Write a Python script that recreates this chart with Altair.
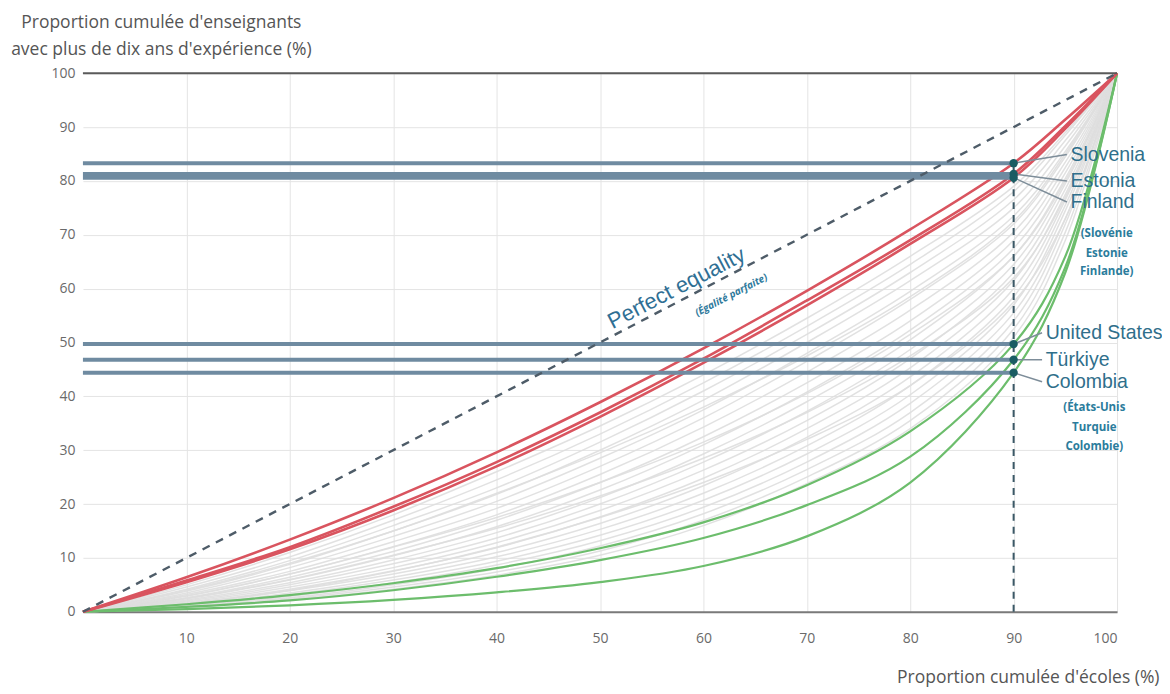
import altair as alt
import pandas as pd

# ---------------- data ----------------
x_pts = [0, 10, 20, 30, 40, 50, 60, 70, 80, 90, 95, 100]

slovenia = [0, 6.4, 13.4, 21.1, 29.6, 38.9, 48.9, 59.6, 71.0, 83.3, 91.4, 100]
estonia = [0, 5.8, 12.0, 19.5, 27.8, 37.0, 47.0, 57.8, 69.0, 81.3, 90.2, 100]
finland = [0, 5.5, 11.6, 18.8, 27.0, 36.2, 46.2, 56.9, 68.3, 80.6, 89.7, 100]
united_states = [0, 1.4, 3.1, 5.3, 8.1, 11.8, 16.6, 23.5, 33.5, 49.7, 66.0, 100]
turkiye = [0, 0.9, 2.1, 4.0, 6.5, 9.6, 13.7, 19.8, 28.8, 46.8, 64.0, 100]
colombia = [0, 0.5, 1.2, 2.2, 3.6, 5.5, 8.5, 14.0, 24.0, 44.4, 63.0, 100]

red_series = {"Slovenia": slovenia, "Estonia": estonia, "Finland": finland}
green_series = {"United States": united_states, "Türkiye": turkiye, "Colombia": colombia}

gray_series = [
    [0, 5.0, 11.0, 18.0, 26.0, 34.5, 44.0, 54.5, 66.0, 79.0, 89.0, 100],
    [0, 4.6, 10.2, 17.0, 24.5, 33.0, 42.5, 53.0, 64.5, 78.0, 88.5, 100],
    [0, 4.2, 9.5, 16.0, 23.0, 31.5, 41.0, 51.5, 63.0, 76.5, 87.5, 100],
    [0, 3.8, 8.8, 15.0, 21.8, 30.0, 39.3, 50.0, 61.5, 75.0, 86.5, 100],
    [0, 3.5, 8.2, 14.0, 20.5, 28.5, 37.5, 48.0, 59.5, 73.5, 85.5, 100],
    [0, 3.2, 7.5, 13.0, 19.2, 27.0, 36.0, 46.5, 58.0, 72.0, 84.5, 100],
    [0, 2.9, 7.0, 12.1, 18.0, 25.5, 34.3, 44.5, 56.0, 70.5, 83.5, 100],
    [0, 2.6, 6.4, 11.2, 17.0, 24.0, 32.5, 42.5, 54.0, 69.0, 82.5, 100],
    [0, 2.4, 5.9, 10.4, 15.8, 22.6, 31.0, 40.8, 52.3, 67.5, 81.5, 100],
    [0, 2.2, 5.4, 9.6, 14.7, 21.2, 29.3, 39.0, 50.5, 66.0, 80.5, 100],
    [0, 2.0, 5.0, 8.9, 13.7, 20.0, 27.8, 37.2, 48.7, 64.5, 79.5, 100],
    [0, 1.8, 4.6, 8.2, 12.8, 18.8, 26.3, 35.5, 47.0, 63.0, 78.5, 100],
    [0, 1.6, 4.2, 7.6, 11.9, 17.6, 24.8, 34.0, 45.3, 61.5, 77.5, 100],
    [0, 1.5, 3.9, 7.0, 11.0, 16.4, 23.4, 32.4, 43.6, 60.0, 76.5, 100],
    [0, 1.3, 3.5, 6.4, 10.2, 15.3, 22.0, 30.8, 42.0, 58.5, 75.5, 100],
    [0, 1.2, 3.2, 5.9, 9.4, 14.2, 20.7, 29.3, 40.3, 57.0, 74.5, 100],
    [0, 1.1, 2.9, 5.4, 8.7, 13.2, 19.4, 27.8, 38.7, 55.5, 73.0, 100],
    [0, 1.0, 2.6, 5.0, 8.0, 12.2, 18.2, 26.4, 37.0, 54.0, 72.0, 100],
    [0, 0.9, 2.4, 4.6, 7.4, 11.3, 17.0, 25.0, 35.5, 52.5, 70.5, 100],
    [0, 0.8, 2.2, 4.2, 6.8, 10.5, 16.0, 23.8, 34.0, 51.0, 69.0, 100],
    [0, 4.0, 9.0, 15.0, 22.0, 29.5, 38.0, 47.5, 58.5, 72.5, 85.0, 100],
    [0, 3.0, 7.0, 12.0, 17.5, 24.0, 31.5, 40.5, 51.5, 66.0, 80.0, 100],
    [0, 2.5, 6.0, 10.5, 15.5, 21.5, 28.5, 37.0, 47.5, 62.0, 77.0, 100],
    [0, 1.5, 4.0, 7.5, 12.0, 17.5, 24.0, 32.0, 42.0, 57.5, 73.0, 100],
]

highlight_names = ["Slovenia", "Estonia", "Finland", "United States", "Türkiye", "Colombia"]
value_at_90 = [83.3, 81.3, 80.6, 49.7, 46.8, 44.4]
label_x = [95.5, 95.5, 95.5, 93.1, 93.1, 93.1]
label_y = [84.9, 80.0, 76.1, 51.8, 46.8, 42.7]

fr_labels_top = ["(Slovénie", "Estonie", "Finlande)"]
fr_top_y = [70.2, 66.5, 63.0]
fr_top_x = 99.0
fr_labels_bottom = ["(États-Unis", "Turquie", "Colombie)"]
fr_bottom_y = [37.9, 34.2, 30.6]
fr_bottom_x = 97.8

x_ticks = [10, 20, 30, 40, 50, 60, 70, 80, 90, 100]
y_ticks = [0, 10, 20, 30, 40, 50, 60, 70, 80, 90, 100]

# ---------------- tables ----------------
rows = []
for i, ys in enumerate(gray_series):
    for xv, yv in zip(x_pts, ys):
        rows.append({"id": f"g{i}", "x": xv, "y": yv})
gray_df = pd.DataFrame(rows)

rows = []
for name, ys in red_series.items():
    for xv, yv in zip(x_pts, ys):
        rows.append({"id": name, "x": xv, "y": yv})
red_df = pd.DataFrame(rows)

rows = []
for name, ys in green_series.items():
    for xv, yv in zip(x_pts, ys):
        rows.append({"id": name, "x": xv, "y": yv})
green_df = pd.DataFrame(rows)

hl_df = pd.DataFrame({
    "name": highlight_names,
    "x0": [0] * 6,
    "x90": [90] * 6,
    "v": value_at_90,
    "lx": label_x,
    "lx_end": [v - 0.35 for v in label_x],
    "ly": label_y,
})

fr_df = pd.DataFrame({
    "t": fr_labels_top + fr_labels_bottom,
    "x": [fr_top_x] * 3 + [fr_bottom_x] * 3,
    "y": fr_top_y + fr_bottom_y,
})

eq_df = pd.DataFrame({"x": [0, 100], "y": [0, 100]})
top_df = pd.DataFrame({"x0": [0], "x1": [100], "y": [100]})
vline_df = pd.DataFrame({"x": [90], "y0": [0], "y1": [max(value_at_90)]})

# ---------------- scales ----------------
xs = alt.Scale(domain=[0, 100], nice=False, zero=False)
ys_ = alt.Scale(domain=[0, 100], nice=False, zero=False)

X = alt.X("x:Q", scale=xs, axis=alt.Axis(
    values=x_ticks, ticks=False, domain=True, domainColor="#7a7a7a", domainWidth=2,
    grid=True, gridColor="#e4e4e4", labelPadding=20,
    title="Proportion cumulée d'écoles (%)", titleX=1077, titleY=66,
    titleAlign="right", titleBaseline="middle", titleFontWeight="normal",
    titleFontSize=17.5, titleColor="#555555"))
Y = alt.Y("y:Q", scale=ys_, axis=alt.Axis(
    values=y_ticks, ticks=False, domain=False, grid=True, gridColor="#e4e4e4",
    labelPadding=8,
    title=["Proportion cumulée d'enseignants", "avec plus de dix ans d'expérience (%)"],
    titleAngle=0, titleX=78, titleY=-60, titleAlign="center", titleBaseline="top",
    titleLineHeight=27, titleFontWeight="normal", titleFontSize=17.5, titleColor="#555555"))

INTERP = "catmull-rom"

grays = alt.Chart(gray_df).mark_line(strokeWidth=1.5, color="#dedede", opacity=0.9,
                                      interpolate=INTERP).encode(
    x=X, y=Y, detail="id:N")

top_rule = alt.Chart(top_df).mark_rule(color="#5a5a5a", strokeWidth=2).encode(
    x=alt.X("x0:Q", scale=xs), x2="x1:Q", y=alt.Y("y:Q", scale=ys_))

steel = alt.Chart(hl_df).mark_rule(color="#6f8ba1", strokeWidth=4).encode(
    x=alt.X("x0:Q", scale=xs), x2="x90:Q", y=alt.Y("v:Q", scale=ys_))

greens = alt.Chart(green_df).mark_line(strokeWidth=2.2, color="#6cbd6c",
                                       interpolate=INTERP).encode(
    x=alt.X("x:Q", scale=xs), y=alt.Y("y:Q", scale=ys_), detail="id:N")

reds = alt.Chart(red_df).mark_line(strokeWidth=2.6, color="#d9545f",
                                   interpolate=INTERP).encode(
    x=alt.X("x:Q", scale=xs), y=alt.Y("y:Q", scale=ys_), detail="id:N")

equality = alt.Chart(eq_df).mark_line(strokeWidth=2.4, color="#4e5c68",
                                      strokeDash=[8, 7]).encode(
    x=alt.X("x:Q", scale=xs), y=alt.Y("y:Q", scale=ys_))

vline = alt.Chart(vline_df).mark_rule(
    color="#3b5866", strokeWidth=2, strokeDash=[7, 6]).encode(
    x=alt.X("x:Q", scale=xs), y=alt.Y("y0:Q", scale=ys_), y2="y1:Q")

leaders = alt.Chart(hl_df).mark_rule(color="#7d8d99", strokeWidth=1.5).encode(
    x=alt.X("x90:Q", scale=xs), y=alt.Y("v:Q", scale=ys_), x2="lx_end:Q", y2="ly:Q")

dots = alt.Chart(hl_df).mark_point(filled=True, size=70, color="#1a5c63", opacity=1).encode(
    x=alt.X("x90:Q", scale=xs), y=alt.Y("v:Q", scale=ys_))

names = alt.Chart(hl_df).mark_text(align="left", baseline="middle", fontSize=19.5,
                                   font="Liberation Sans", color="#2f6f8b").encode(
    x=alt.X("lx:Q", scale=xs), y=alt.Y("ly:Q", scale=ys_), text="name:N")

fr_text = alt.Chart(fr_df).mark_text(align="center", baseline="middle", fontSize=11.5,
                                     font="Open Sans", fontWeight="bold",
                                     color="#2b7c9c").encode(
    x=alt.X("x:Q", scale=xs), y=alt.Y("y:Q", scale=ys_), text="t:N")

eq_label = alt.Chart(pd.DataFrame({"x": [57.4], "y": [60.1], "t": ["Perfect equality"]})).mark_text(
    angle=332.5, fontSize=22, font="Liberation Sans", color="#2f6f94",
    align="center", baseline="middle").encode(
    x=alt.X("x:Q", scale=xs), y=alt.Y("y:Q", scale=ys_), text="t:N")

eq_sub = alt.Chart(pd.DataFrame({"x": [62.7], "y": [58.8], "t": ["(Égalité parfaite)"]})).mark_text(
    angle=332.5, fontSize=10, font="Open Sans", fontStyle="italic", fontWeight="bold",
    color="#2f7a9c", align="center", baseline="middle").encode(
    x=alt.X("x:Q", scale=xs), y=alt.Y("y:Q", scale=ys_), text="t:N")

chart = alt.layer(
    grays, greens, reds, steel, top_rule, equality, vline, leaders, dots,
    names, fr_text, eq_label, eq_sub
).properties(
    width=1035, height=539,
    padding={"left": 75, "top": 65, "right": 45, "bottom": 82},
    autosize=alt.AutoSizeParams(type="none"),
).configure_view(stroke=None).configure_axis(
    labelFont="Open Sans", labelFontSize=14, labelColor="#6a6a6a",
    titleFont="Open Sans"
)

chart.save("out.html", embed_options={"renderer": "svg", "actions": False})
